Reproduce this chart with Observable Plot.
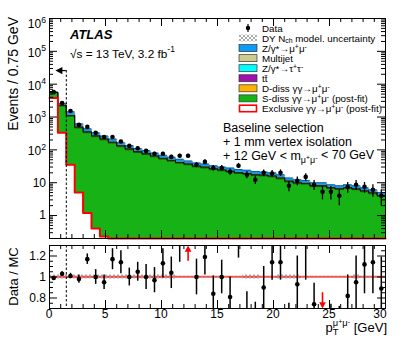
<!DOCTYPE html>
<html><head><meta charset="utf-8">
<script src="https://cdn.jsdelivr.net/npm/d3@7"></script>
<script src="https://cdn.jsdelivr.net/npm/@observablehq/plot@0.6"></script>
<style>
html,body{margin:0;padding:0;background:#fff;}
#c{position:relative;width:407px;height:344px;overflow:hidden;font-family:"Liberation Sans",Arial,Helvetica,sans-serif;}
#c svg{position:absolute;left:0;overflow:visible;}
text{white-space:pre;}
</style></head><body><div id="c"></div>
<script>
// ---------------- data ----------------
const binWidth = 0.75; // GeV per bin
const nBins = 40;      // 0 .. 30 GeV
const exclusive = [3800, 330, 35, 5, 1.2, 0.4, 0.23, 0.05, 0, 0, 0, 0, 0, 0, 0, 0, 0, 0, 0, 0, 0, 0, 0, 0, 0, 0, 0, 0, 0, 0, 0, 0, 0, 0, 0, 0, 0, 0, 0, 0];
const sdiss = [1700, 1820, 1015, 455, 329, 250, 200, 160, 125, 100, 83, 72, 61, 52, 45, 39, 35, 30, 28, 25, 23, 21, 19, 18, 16.5, 16, 15, 13, 10.5, 9.3, 9, 7.6, 7.6, 6.6, 6.2, 6.6, 6.1, 5.3, 4.6, 3.8];
const ddiss = [120, 100, 55, 25, 18, 13, 10.6, 8.6, 6.6, 5.4, 4.4, 3.8, 3.2, 2.7, 2.4, 2.1, 1.8, 1.6, 1.5, 1.3, 1.2, 1.1, 1.0, 0.96, 0.88, 0.84, 0.8, 0.7, 0.56, 0.5, 0.47, 0.4, 0.4, 0.35, 0.32, 0.35, 0.32, 0.28, 0.24, 0.2];
const ttbar = [5, 8, 4, 2, 1.3, 1, 0.8, 0.6, 0.5, 0.4, 0.3, 0.3, 0.24, 0.2, 0.18, 0.16, 0.14, 0.12, 0.11, 0.1, 0.09, 0.08, 0.08, 0.07, 0.07, 0.06, 0.06, 0.05, 0.04, 0.04, 0.04, 0.03, 0.03, 0.03, 0.02, 0.03, 0.02, 0.02, 0.02, 0.015];
const ztautau = [15, 25, 14, 6, 4.4, 3.3, 2.6, 2.1, 1.6, 1.3, 1.1, 0.9, 0.8, 0.7, 0.6, 0.5, 0.46, 0.4, 0.37, 0.33, 0.3, 0.28, 0.25, 0.24, 0.22, 0.21, 0.2, 0.18, 0.14, 0.12, 0.12, 0.1, 0.1, 0.09, 0.08, 0.09, 0.08, 0.07, 0.06, 0.05];
const multijet = [40, 50, 28, 12, 9, 6.6, 5.3, 4.3, 3.3, 2.7, 2.2, 1.9, 1.6, 1.4, 1.2, 1.0, 0.9, 0.8, 0.74, 0.66, 0.6, 0.56, 0.5, 0.48, 0.44, 0.42, 0.4, 0.35, 0.28, 0.25, 0.24, 0.2, 0.2, 0.17, 0.16, 0.17, 0.16, 0.14, 0.12, 0.1];
const zmumu = [100, 267, 299, 115, 77, 56, 45.5, 39.4, 28, 25.2, 19, 16.1, 13.2, 11, 10.6, 9.2, 7.7, 7.1, 6.3, 5.6, 4.8, 5.0, 4.2, 4.25, 3.9, 3.5, 3.5, 3.2, 2.5, 2.1, 1.9, 1.7, 1.7, 1.46, 1.32, 1.46, 1.42, 1.19, 1.06, 0.84];
const dataVals = [5720, 2650, 1520, 575, 500, 330, 247, 247, 180, 132, 112, 93, 76, 76, 61, 66, 66, 35, 43, 28, 28, 21.5, 33, 17.5, 12.3, 20, 19, 20, 8.1, 11.5, 15, 8.7, 5.3, 5.3, 4.0, 7.5, 8.7, 7.5, 6.1, 4.0];
const dataErr = [76, 51, 39, 24, 22, 18, 16, 16, 13, 11.5, 10.5, 9.6, 8.7, 8.7, 7.8, 8.1, 8.1, 5.9, 6.6, 5.3, 5.3, 4.6, 5.7, 4.2, 3.5, 4.5, 4.4, 4.5, 2.8, 3.4, 3.9, 2.9, 2.3, 2.3, 2.0, 2.7, 2.9, 2.7, 2.5, 2.0];
const ratioVals = [0.99, 1.03, 1.01, 0.98, 1.17, 1.0, 0.95, 1.17, 1.14, 1.0, 1.05, 1.0, 0.97, 1.13, 1.04, 1.36, 1.5, 1.0, 1.19, 0.84, 1.0, 0.81, 1.42, 0.64, 0.5, 0.9, 1.14, 1.14, 0.55, 0.93, 1.33, 0.74, 0.4, 0.5, 0.5, 0.82, 0.95, 1.12, 1.14, 0.89];
const ratioErr = [0.015, 0.02, 0.025, 0.04, 0.05, 0.07, 0.07, 0.1, 0.11, 0.085, 0.09, 0.12, 0.12, 0.14, 0.15, 0.22, 0.18, 0.17, 0.17, 0.17, 0.16, 0.19, 0.24, 0.22, 0.26, 0.2, 0.17, 0.17, 0.2, 0.27, 0.36, 0.2, 0.2, 0.24, 0.22, 0.2, 0.25, 0.28, 0.3, 0.3];
const mcStat = [0.01, 0.01, 0.01, 0.01, 0.01, 0.01, 0.01, 0.01, 0.01, 0.01, 0.01, 0.01, 0.01, 0.01, 0.01, 0.01, 0.01, 0.01, 0.01, 0.01, 0.01, 0.01, 0.01, 0.01, 0.01, 0.01, 0.01, 0.01, 0.01, 0.01, 0.01, 0.01, 0.01, 0.01, 0.01, 0.01, 0.01, 0.01, 0.01, 0.01];
const dyUnc = [0.02, 0.02, 0.02, 0.02, 0.02, 0.02, 0.02, 0.02, 0.02, 0.02, 0.02, 0.02, 0.02, 0.02, 0.02, 0.005, 0.005, 0.005, 0.005, 0.005, 0.005, 0.005, 0.005, 0.02, 0.02, 0.005, 0.005, 0.02, 0.02, 0.02, 0.005, 0.005, 0.005, 0.005, 0.005, 0.005, 0.02, 0.005, 0.005, 0.005];
const cutValue = 1.5;       // GeV, vertical dashed line
const cutArrowY = 2.6e4;    // height of the selection arrow
const cutArrowTip = 0.88;   // GeV, arrow head centre
const xTickLabels = [0, 5, 10, 15, 20, 25, 30];
const yTickLabels = [1, 10, 100, 1e3, 1e4, 1e5, 1e6];
const ratioTickLabels = [0.8, 1, 1.2];
const legendLabels = ["Data", "DY N_{ch} model. uncertainty", "Z/γ*→μ^{+}μ^{-}", "Multijet", "Z/γ*→τ^{+}τ^{-}", "tt̄", "D-diss γγ→μ^{+}μ^{-}", "S-diss γγ→μ^{+}μ^{-} (post-fit)", "Exclusive γγ→μ^{+}μ^{-} (post-fit)"];

// ---------------- styling ----------------
const FONT = "Liberation Sans, Arial, Helvetica, sans-serif";
const col = {zmumu: "#0a9cf8", mj: "#cfcb8c", ztt: "#00ffff", tt: "#a010b0", dd: "#ffb000", sd: "#16b216", excl: "#ff0000"};
const W = 407, H1 = 245, H2 = 99, mL = 49, mR = 22;
const t1 = 18, b1 = 7, t2 = 0, b2 = 36;
const inH1 = H1 - t1 - b1, inH2 = H2 - t2 - b2;
const yMin = 0.2, yMax = 1e6;

const edges = d3.range(nBins + 1).map(i => i * binWidth);
const centers = d3.range(nBins).map(i => (i + 0.5) * binWidth);
const comps = [exclusive, sdiss, ddiss, ttbar, ztautau, multijet, zmumu];
const fills = ["white", col.sd, col.dd, col.tt, col.ztt, col.mj, col.zmumu];
const cum = [];
{ let run = new Array(nBins).fill(0); for (const c of comps) { run = run.map((v, i) => v + c[i]); cum.push(run); } }
const steps = arr => arr.flatMap((v, i) => [{x: edges[i], y: v}, {x: edges[i + 1], y: v}]);
const lg = v => Math.max(v, yMin);

const xMaj = xTickLabels, xMin = d3.range(0, 31).filter(v => v % 5 !== 0);
const yLogMaj = d3.range(-1, 7).map(k => 10 ** k).filter(v => v >= yMin && v <= yMax);
const yLogMin = d3.range(-1, 6).flatMap(k => d3.range(2, 10).map(m => m * 10 ** k)).filter(v => v >= yMin && v <= yMax);

function tickMarks(inH, inW, xa, xb, ya, yb, LM, Lm) {
  return [
    Plot.ruleX(xa, {x: d => d, insetTop: inH - LM}), Plot.ruleX(xa, {x: d => d, insetBottom: inH - LM}),
    Plot.ruleX(xb, {x: d => d, insetTop: inH - Lm}), Plot.ruleX(xb, {x: d => d, insetBottom: inH - Lm}),
    Plot.ruleY(ya, {y: d => d, insetRight: inW - LM}), Plot.ruleY(ya, {y: d => d, insetLeft: inW - LM}),
    Plot.ruleY(yb, {y: d => d, insetRight: inW - Lm}), Plot.ruleY(yb, {y: d => d, insetLeft: inW - Lm})
  ];
}
const inW = W - mL - mR;

const triLeft = {draw(ctx, size) { const a = Math.sqrt(size / Math.PI); ctx.moveTo(-1.3 * a, 0); ctx.lineTo(a, -1.2 * a); ctx.lineTo(a, 1.2 * a); ctx.closePath(); }};
const triUp = {draw(ctx, size) { const a = Math.sqrt(size / Math.PI); ctx.moveTo(0, -1.3 * a); ctx.lineTo(-1.2 * a, a); ctx.lineTo(1.2 * a, a); ctx.closePath(); }};
const triDown = {draw(ctx, size) { const a = Math.sqrt(size / Math.PI); ctx.moveTo(0, 1.3 * a); ctx.lineTo(-1.2 * a, -a); ctx.lineTo(1.2 * a, -a); ctx.closePath(); }};

// ---------------- top panel ----------------
const topMarks = [];
for (let k = 6; k >= 0; k--) {
  topMarks.push(Plot.areaY(steps(cum[k]), {x: "x", y1: yMin, y2: d => lg(d.y), fill: fills[k]}));
}
for (let k = 6; k >= 1; k--) {
  topMarks.push(Plot.line(steps(cum[k]), {x: "x", y: d => lg(d.y), stroke: "#000", strokeWidth: 0.5, strokeOpacity: 0.75}));
}
topMarks.push(Plot.line(steps(cum[0]), {x: "x", y: d => lg(d.y), stroke: col.excl, strokeWidth: 2}));
topMarks.push(Plot.ruleX([cutValue], {y1: cutArrowY, y2: yMin, stroke: "#000", strokeWidth: 1, strokeDasharray: "2.5,2"}));
topMarks.push(Plot.ruleY([cutArrowY], {x1: cutArrowTip, x2: cutValue, stroke: "#000", strokeWidth: 1.2}));
topMarks.push(Plot.dot([cutArrowY], {x: cutArrowTip, y: d => d, symbol: triLeft, r: 3, fill: "#000", stroke: "none"}));
const dataPts = centers.map((c, i) => ({c, v: dataVals[i], e: dataErr[i]}));
topMarks.push(Plot.ruleX(dataPts, {x: "c", y1: d => lg(d.v - d.e), y2: d => d.v + d.e, stroke: "#000", strokeWidth: 1.3}));
topMarks.push(Plot.dot(dataPts, {x: "c", y: "v", r: 2.3, fill: "#000", stroke: "none"}));
topMarks.push(...tickMarks(inH1, inW, xMaj, xMin, yLogMaj, yLogMin, 8, 4));
topMarks.push(Plot.frame({stroke: "#000", strokeWidth: 1}));

const topPlot = Plot.plot({
  width: W, height: H1, marginTop: t1, marginBottom: b1, marginLeft: mL, marginRight: mR,
  x: {domain: [0, 30], axis: null},
  y: {type: "log", domain: [yMin, yMax], axis: null},
  style: {background: "transparent", fontFamily: FONT, overflow: "visible"},
  marks: topMarks
});

// ---------------- ratio panel ----------------
const rPts = centers.map((c, i) => ({i, c, v: ratioVals[i], e: ratioErr[i]}));
const ups = rPts.filter(d => d.v - d.e > 1.3);
const downs = rPts.filter(d => d.v + d.e < 0.7);
const normal = rPts.filter(d => !(d.v - d.e > 1.3) && !(d.v + d.e < 0.7));
const botPlot = Plot.plot({
  width: W, height: H2, marginTop: t2, marginBottom: b2, marginLeft: mL, marginRight: mR,
  x: {domain: [0, 30], axis: null},
  y: {domain: [0.7, 1.3], axis: null},
  style: {background: "transparent", fontFamily: FONT, overflow: "visible"},
  marks: [
    Plot.areaY(steps(mcStat), {x: "x", y1: d => 1 - d.y, y2: d => 1 + d.y, fill: "#ffaaaa"}),
    Plot.areaY(steps(dyUnc), {x: "x", y1: d => 1 - d.y, y2: d => 1 + d.y, fill: "url(#xhatch)"}),
    Plot.ruleY([1], {stroke: "#ee2222", strokeWidth: 1}),
    Plot.ruleX([cutValue], {stroke: "#000", strokeWidth: 1, strokeDasharray: "2.5,2"}),
    Plot.ruleX(normal, {x: "c", y1: d => d.v - d.e, y2: d => d.v + d.e, stroke: "#000", strokeWidth: 1.5, clip: true}),
    Plot.dot(normal, {x: "c", y: "v", r: 2.3, fill: "#000", stroke: "none", clip: true}),
    Plot.ruleX(ups, {x: "c", y1: 1.15, y2: 1.27, stroke: col.excl, strokeWidth: 1.6}),
    Plot.dot(ups, {x: "c", y: 1.266, symbol: triUp, r: 2.8, fill: col.excl, stroke: "none"}),
    Plot.ruleX(downs, {x: "c", y1: 0.85, y2: 0.73, stroke: col.excl, strokeWidth: 1.6}),
    Plot.dot(downs, {x: "c", y: 0.734, symbol: triDown, r: 2.8, fill: col.excl, stroke: "none"}),
    ...tickMarks(inH2, inW, xMaj, xMin, ratioTickLabels, d3.range(0.7, 1.3001, 0.05).filter(v => ![0.8, 1, 1.2].some(m => Math.abs(m - v) < 1e-6)), 8, 4),
    Plot.frame({stroke: "#000", strokeWidth: 1})
  ]
});

const container = document.getElementById("c");
topPlot.style.top = "0px";
botPlot.style.top = H1 + "px";
container.appendChild(topPlot);
container.appendChild(botPlot);

// ---------------- text helpers ----------------
function parse(str, sup = -0.42, sub = 0.3) {
  const re = /([\^_])\{([^}]*)\}/g; let last = 0, m; const segs = [];
  while ((m = re.exec(str))) {
    if (m.index > last) segs.push({t: str.slice(last, m.index)});
    segs.push({t: m[2], o: m[1] === "^" ? sup : sub, s: 0.7});
    last = re.lastIndex;
  }
  if (last < str.length) segs.push({t: str.slice(last)});
  return segs;
}
function addText(svg, x, y, segs, o) {
  const t = svg.append("text").attr("x", x).attr("y", y).attr("font-size", o.size)
    .attr("text-anchor", o.anchor || "start").attr("font-family", FONT).attr("fill", "#000");
  if (o.weight) t.attr("font-weight", o.weight);
  if (o.italic) t.attr("font-style", "italic");
  if (o.transform) t.attr("transform", o.transform);
  let cur = 0;
  for (const g of segs) {
    const off = g.o || 0, s = g.s || 1;
    t.append("tspan").attr("dy", ((off - cur) * o.size).toFixed(2)).attr("font-size", (o.size * s).toFixed(2)).text(g.t);
    cur = off;
  }
  return t;
}

const sTop = d3.select(topPlot), sBot = d3.select(botPlot);
const sx = topPlot.scale("x"), sy = topPlot.scale("y"), sr = botPlot.scale("y");

// hatch pattern
const defs = sBot.append("defs");
const pat = defs.append("pattern").attr("id", "xhatch").attr("patternUnits", "userSpaceOnUse").attr("width", 4).attr("height", 4);
pat.append("path").attr("d", "M0,0L4,4M4,0L0,4").attr("stroke", "#777").attr("stroke-width", 0.6).attr("fill", "none");

// y tick labels (top, log)
yTickLabels.forEach(v => {
  const k = Math.round(Math.log10(v)), y = sy.apply(v);
  if (k === 0) addText(sTop, 46, y + 4.3, [{t: "1"}], {size: 12, anchor: "end"});
  else if (k === 1) addText(sTop, 46, y + 4.3, [{t: "10"}], {size: 12, anchor: "end"});
  else addText(sTop, 46, y + (k === 6 ? 10 : 6), [{t: "10"}, {t: String(k), o: -0.45, s: 0.72}], {size: 12, anchor: "end"});
});
// ratio y labels
ratioTickLabels.forEach(v => addText(sBot, 46, sr.apply(v) + 4.3, [{t: String(v)}], {size: 12, anchor: "end"}));
// x tick labels
xTickLabels.forEach((v, i) => addText(sBot, sx.apply(v) + (i === xTickLabels.length - 1 ? -5 : 0), inH2 + 10, [{t: String(v)}], {size: 12, anchor: "middle"}));

// axis titles
addText(sTop, 0, 0, [{t: "Events / 0.75 GeV"}], {size: 14, anchor: "end", transform: "translate(17.5,17) rotate(-90)"});
addText(sBot, 0, 0, [{t: "Data / MC"}], {size: 13, anchor: "middle", transform: "translate(17.5,31.5) rotate(-90)"});
const xt = addText(sBot, 387, 86.5, [{t: "p"}, {t: "μ", o: -0.42, s: 0.72}, {t: "+", o: -0.6, s: 0.55}, {t: "μ", o: -0.42, s: 0.72}, {t: "-", o: -0.6, s: 0.55}, {t: " [GeV]"}], {size: 13, anchor: "end"});
const tx = xt.node().getStartPositionOfChar(1).x;
addText(sBot, tx, 90, [{t: "T"}], {size: 9.4, anchor: "start"});

// ATLAS labels
addText(sTop, 70, 38.5, [{t: "ATLAS"}], {size: 13, weight: "bold", italic: true});
addText(sTop, 70, 57.5, [{t: "√s = 13 TeV, 3.2 fb"}, {t: "-1", o: -0.45, s: 0.72}], {size: 11.8});
addText(sTop, 223, 131.5, [{t: "Baseline selection"}], {size: 12.5});
addText(sTop, 223, 145.5, [{t: "+ 1 mm vertex isolation"}], {size: 12.5});
addText(sTop, 223, 159.5, [{t: "+ 12 GeV < m"}, {t: "μ", o: 0.3, s: 0.72}, {t: "+", o: 0.05, s: 0.55}, {t: "μ", o: 0.3, s: 0.72}, {t: "-", o: 0.05, s: 0.55}, {t: " < 70 GeV"}], {size: 12.5});

// legend
const legKinds = ["data", "hatch", col.zmumu, col.mj, col.ztt, col.tt, col.dd, col.sd, "excl"];
legendLabels.forEach((lab, i) => {
  const cy = 28 + i * 10.05;
  const kind = legKinds[i];
  if (kind === "data") {
    sTop.append("line").attr("x1", 248).attr("x2", 248).attr("y1", cy - 4).attr("y2", cy + 4).attr("stroke", "#000").attr("stroke-width", 1.2);
    sTop.append("circle").attr("cx", 248).attr("cy", cy).attr("r", 2.2).attr("fill", "#000");
  } else if (kind === "hatch") {
    sTop.append("rect").attr("x", 239).attr("y", cy - 3.5).attr("width", 18).attr("height", 7).attr("fill", "url(#xhatch)");
  } else if (kind === "excl") {
    sTop.append("rect").attr("x", 239.5).attr("y", cy - 3.2).attr("width", 17).attr("height", 6.5).attr("fill", "#fff").attr("stroke", col.excl).attr("stroke-width", 1.6);
  } else {
    sTop.append("rect").attr("x", 239).attr("y", cy - 3.5).attr("width", 18).attr("height", 7).attr("fill", kind).attr("stroke", "#333").attr("stroke-width", 0.7);
  }
  addText(sTop, 262, cy + 3.5, parse(lab, -0.3, 0.18), {size: 9.8});
});
</script>
</body></html>
